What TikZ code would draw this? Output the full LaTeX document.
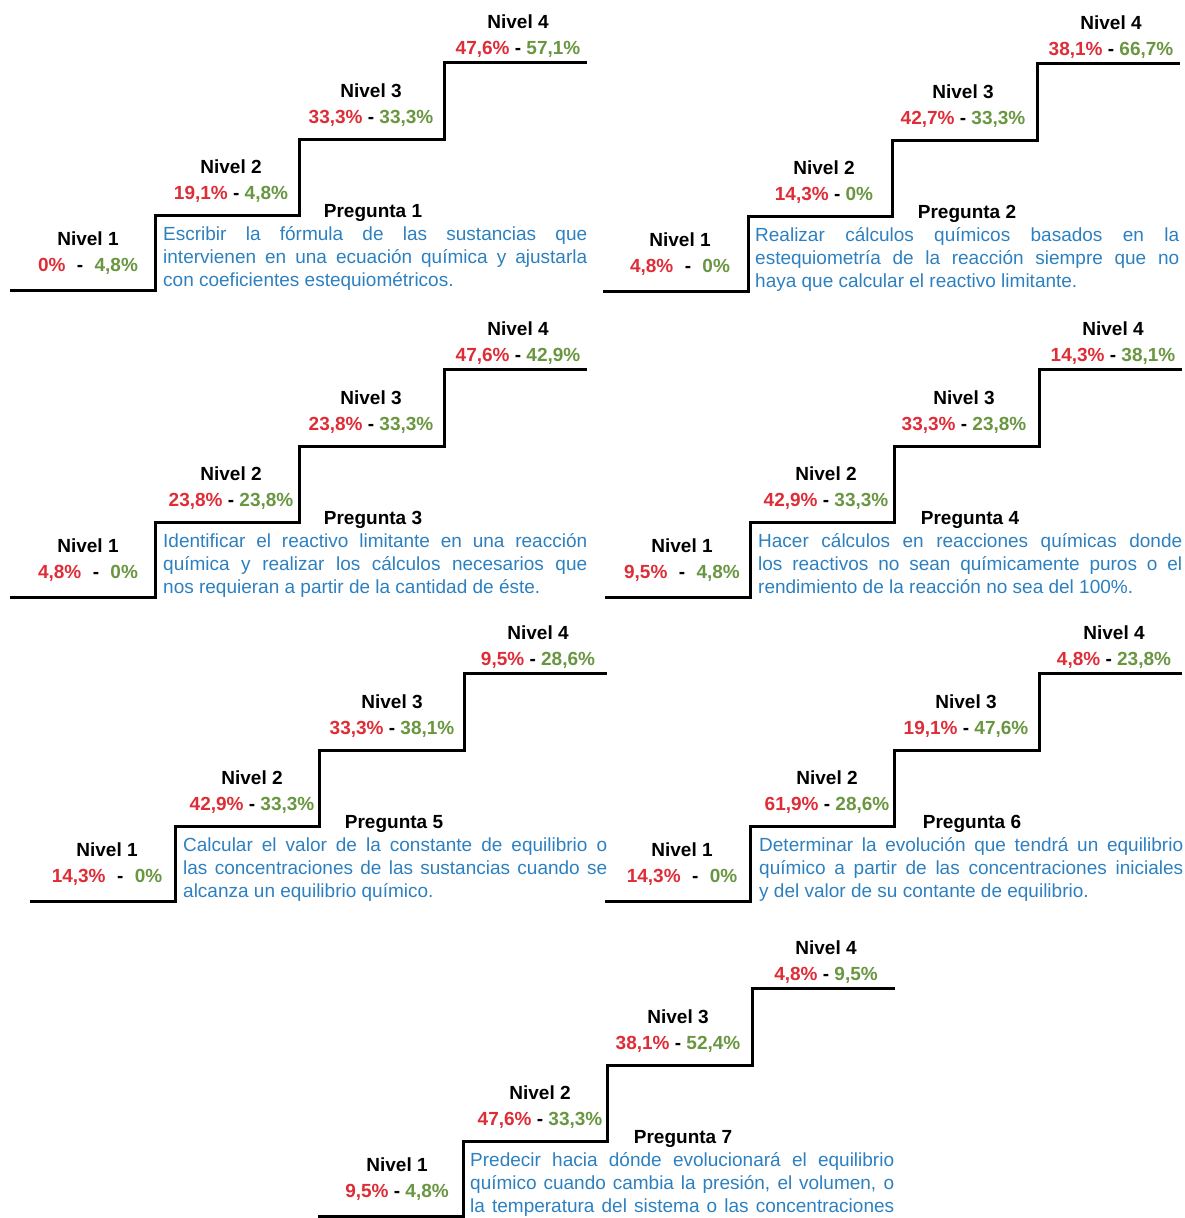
\documentclass[tikz,border=0pt]{standalone}
\usepackage{fontspec}
\setmainfont{Liberation Sans}
\definecolor{pred}{RGB}{222,45,55}
\definecolor{pgreen}{RGB}{105,150,65}
\definecolor{dblue}{RGB}{45,128,192}
\tikzset{
  stair/.style={line width=3pt, line join=miter},
  lvl/.style={font=\bfseries\fontsize{19}{23}\selectfont, anchor=base, inner sep=0pt},
  preg/.style={font=\bfseries\fontsize{19}{23}\selectfont, anchor=base, inner sep=0pt},
  desc/.style={font=\fontsize{19}{23}\selectfont, text=dblue, anchor=base west, inner sep=0pt},
}
\newcommand\pRed[1]{\textcolor{pred}{#1}}
\newcommand\pGrn[1]{\textcolor{pgreen}{#1}}
\newcommand\wsep{\hspace{0.6em}-\hspace{0.6em}}
\newcommand\nsep{ - }
\newcommand\jline[1]{\makebox[424pt][s]{#1}}
% \lvlpair{name}{x}{ybase}{level text}{pct text}
\newcommand\lvlpair[5]{%
  \node[lvl] (#1a) at (#2,#3) {#4};
  \node[lvl] (#1b) at (#2,#3+26) {#5};}
\newcommand\stairs{%
  \draw[stair] (-145,0) -- (0,0) -- (0,-75) -- (144,-75) -- (144,-151) -- (289,-151) -- (289,-228) -- (432,-228);}
\begin{document}
\begin{tikzpicture}[x=1pt,y=-1pt]
\useasboundingbox (0,0) rectangle (1184,1218);
% ---------- Pregunta 1
\begin{scope}[shift={(155,290)}]
  \stairs
  \lvlpair{p1l1}{-67}{-45}{Nivel 1}{\pRed{0\%}\wsep\pGrn{4,8\%}}
  \lvlpair{p1l2}{76}{-117}{Nivel 2}{\pRed{19,1\%}\nsep\pGrn{4,8\%}}
  \lvlpair{p1l3}{216}{-193}{Nivel 3}{\pRed{33,3\%}\nsep\pGrn{33,3\%}}
  \lvlpair{p1l4}{363}{-262}{Nivel 4}{\pRed{47,6\%}\nsep\pGrn{57,1\%}}
  \node[preg] (p1q) at (218,-73) {Pregunta 1};
  \node[desc] (p1d1) at (8,-50) {\jline{Escribir la fórmula de las sustancias que}};
  \node[desc] (p1d2) at (8,-27) {\jline{intervienen en una ecuación química y ajustarla}};
  \node[desc] (p1d3) at (8,-4) {con coeficientes estequiométricos.};
\end{scope}
% ---------- Pregunta 2
\begin{scope}[shift={(748,291)}]
  \stairs
  \lvlpair{p2l1}{-68}{-45}{Nivel 1}{\pRed{4,8\%}\wsep\pGrn{0\%}}
  \lvlpair{p2l2}{76}{-117}{Nivel 2}{\pRed{14,3\%}\nsep\pGrn{0\%}}
  \lvlpair{p2l3}{215}{-193}{Nivel 3}{\pRed{42,7\%}\nsep\pGrn{33,3\%}}
  \lvlpair{p2l4}{363}{-262}{Nivel 4}{\pRed{38,1\%}\nsep\pGrn{66,7\%}}
  \node[preg] (p2q) at (219,-73) {Pregunta 2};
  \node[desc] (p2d1) at (7,-50) {\jline{Realizar cálculos químicos basados en la}};
  \node[desc] (p2d2) at (7,-27) {\jline{estequiometría de la reacción siempre que no}};
  \node[desc] (p2d3) at (7,-4) {haya que calcular el reactivo limitante.};
\end{scope}
% ---------- Pregunta 3
\begin{scope}[shift={(155,597)}]
  \stairs
  \lvlpair{p3l1}{-67}{-45}{Nivel 1}{\pRed{4,8\%}\wsep\pGrn{0\%}}
  \lvlpair{p3l2}{76}{-117}{Nivel 2}{\pRed{23,8\%}\nsep\pGrn{23,8\%}}
  \lvlpair{p3l3}{216}{-193}{Nivel 3}{\pRed{23,8\%}\nsep\pGrn{33,3\%}}
  \lvlpair{p3l4}{363}{-262}{Nivel 4}{\pRed{47,6\%}\nsep\pGrn{42,9\%}}
  \node[preg] (p3q) at (218,-73) {Pregunta 3};
  \node[desc] (p3d1) at (8,-50) {\jline{Identificar el reactivo limitante en una reacción}};
  \node[desc] (p3d2) at (8,-27) {\jline{química y realizar los cálculos necesarios que}};
  \node[desc] (p3d3) at (8,-4) {nos requieran a partir de la cantidad de éste.};
\end{scope}
% ---------- Pregunta 4
\begin{scope}[shift={(750,597)}]
  \stairs
  \lvlpair{p4l1}{-68}{-45}{Nivel 1}{\pRed{9,5\%}\wsep\pGrn{4,8\%}}
  \lvlpair{p4l2}{76}{-117}{Nivel 2}{\pRed{42,9\%}\nsep\pGrn{33,3\%}}
  \lvlpair{p4l3}{214}{-193}{Nivel 3}{\pRed{33,3\%}\nsep\pGrn{23,8\%}}
  \lvlpair{p4l4}{363}{-262}{Nivel 4}{\pRed{14,3\%}\nsep\pGrn{38,1\%}}
  \node[preg] (p4q) at (220,-73) {Pregunta 4};
  \node[desc] (p4d1) at (8,-50) {\jline{Hacer cálculos en reacciones químicas donde}};
  \node[desc] (p4d2) at (8,-27) {\jline{los reactivos no sean químicamente puros o el}};
  \node[desc] (p4d3) at (8,-4) {rendimiento de la reacción no sea del 100\%.};
\end{scope}
% ---------- Pregunta 5
\begin{scope}[shift={(175,901)}]
  \stairs
  \lvlpair{p5l1}{-68}{-45}{Nivel 1}{\pRed{14,3\%}\wsep\pGrn{0\%}}
  \lvlpair{p5l2}{77}{-117}{Nivel 2}{\pRed{42,9\%}\nsep\pGrn{33,3\%}}
  \lvlpair{p5l3}{217}{-193}{Nivel 3}{\pRed{33,3\%}\nsep\pGrn{38,1\%}}
  \lvlpair{p5l4}{363}{-262}{Nivel 4}{\pRed{9,5\%}\nsep\pGrn{28,6\%}}
  \node[preg] (p5q) at (219,-73) {Pregunta 5};
  \node[desc] (p5d1) at (8,-50) {\jline{Calcular el valor de la constante de equilibrio o}};
  \node[desc] (p5d2) at (8,-27) {\jline{las concentraciones de las sustancias cuando se}};
  \node[desc] (p5d3) at (8,-4) {alcanza un equilibrio químico.};
\end{scope}
% ---------- Pregunta 6
\begin{scope}[shift={(750,901)}]
  \stairs
  \lvlpair{p6l1}{-68}{-45}{Nivel 1}{\pRed{14,3\%}\wsep\pGrn{0\%}}
  \lvlpair{p6l2}{77}{-117}{Nivel 2}{\pRed{61,9\%}\nsep\pGrn{28,6\%}}
  \lvlpair{p6l3}{216}{-193}{Nivel 3}{\pRed{19,1\%}\nsep\pGrn{47,6\%}}
  \lvlpair{p6l4}{364}{-262}{Nivel 4}{\pRed{4,8\%}\nsep\pGrn{23,8\%}}
  \node[preg] (p6q) at (222,-73) {Pregunta 6};
  \node[desc] (p6d1) at (9,-50) {\jline{Determinar la evolución que tendrá un equilibrio}};
  \node[desc] (p6d2) at (9,-27) {\jline{químico a partir de las concentraciones iniciales}};
  \node[desc] (p6d3) at (9,-4) {y del valor de su contante de equilibrio.};
\end{scope}
% ---------- Pregunta 7
\begin{scope}[shift={(463,1216)}]
  \stairs
  \lvlpair{p7l1}{-66}{-45}{Nivel 1}{\pRed{9,5\%}\nsep\pGrn{4,8\%}}
  \lvlpair{p7l2}{77}{-117}{Nivel 2}{\pRed{47,6\%}\nsep\pGrn{33,3\%}}
  \lvlpair{p7l3}{215}{-193}{Nivel 3}{\pRed{38,1\%}\nsep\pGrn{52,4\%}}
  \lvlpair{p7l4}{363}{-262}{Nivel 4}{\pRed{4,8\%}\nsep\pGrn{9,5\%}}
  \node[preg] (p7q) at (220,-73) {Pregunta 7};
  \node[desc] (p7d1) at (7,-50) {\jline{Predecir hacia dónde evolucionará el equilibrio}};
  \node[desc] (p7d2) at (7,-27) {\jline{químico cuando cambia la presión, el volumen, o}};
  \node[desc] (p7d3) at (7,-4) {\jline{la temperatura del sistema o las concentraciones}};
\end{scope}
\end{tikzpicture}
\end{document}
